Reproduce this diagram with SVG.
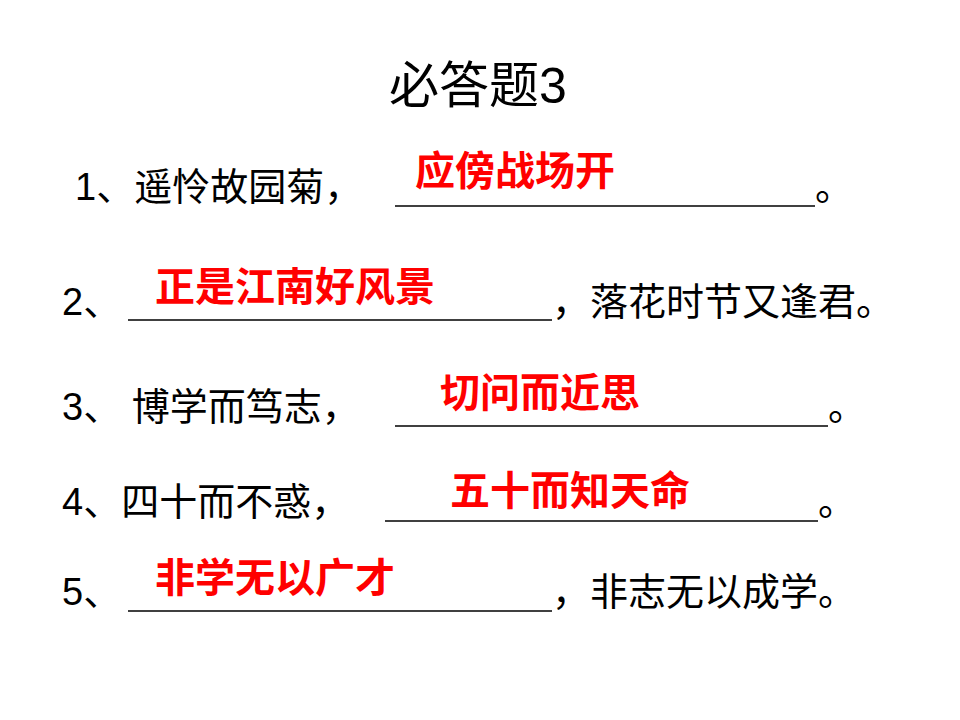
<svg xmlns="http://www.w3.org/2000/svg" width="960" height="720" viewBox="0 0 960 720">
<style>
.t{font-family:"Liberation Sans","Noto Sans CJK SC",sans-serif;font-size:38px;fill:#000}
.r{font-family:"Liberation Sans","Noto Sans CJK SC",sans-serif;font-size:40px;font-weight:bold;fill:#ff0000}
.u{stroke:#000;stroke-width:1.5}
</style>
<rect width="960" height="720" fill="#fff"/>
<text x="478" y="103" text-anchor="middle" class="t" style="font-size:50px">必答题3</text>
<g id="l1"><text x="75" y="200" class="t">1、遥怜故园菊，</text><line class="u" x1="395" y1="206" x2="815" y2="206"/><text x="815" y="200" class="t">。</text><text x="415" y="185" class="r">应傍战场开</text></g>
<g id="l2"><text x="62" y="315" class="t">2、</text><line class="u" x1="128" y1="320" x2="552" y2="320"/><text x="552" y="315" class="t">，落花时节又逢君。</text><text x="155" y="301" class="r">正是江南好风景</text></g>
<g id="l3"><text x="62" y="420" class="t">3、 博学而笃志，</text><line class="u" x1="395" y1="426" x2="828" y2="426"/><text x="828" y="420" class="t">。</text><text x="440" y="407" class="r">切问而近思</text></g>
<g id="l4"><text x="62" y="515" class="t">4、四十而不惑，</text><line class="u" x1="385" y1="521" x2="818" y2="521"/><text x="818" y="515" class="t">。</text><text x="450" y="505" class="r">五十而知天命</text></g>
<g id="l5"><text x="62" y="605" class="t">5、</text><line class="u" x1="128" y1="611" x2="552" y2="611"/><text x="552" y="605" class="t">，非志无以成学。</text><text x="155" y="592" class="r">非学无以广才</text></g>
</svg>
